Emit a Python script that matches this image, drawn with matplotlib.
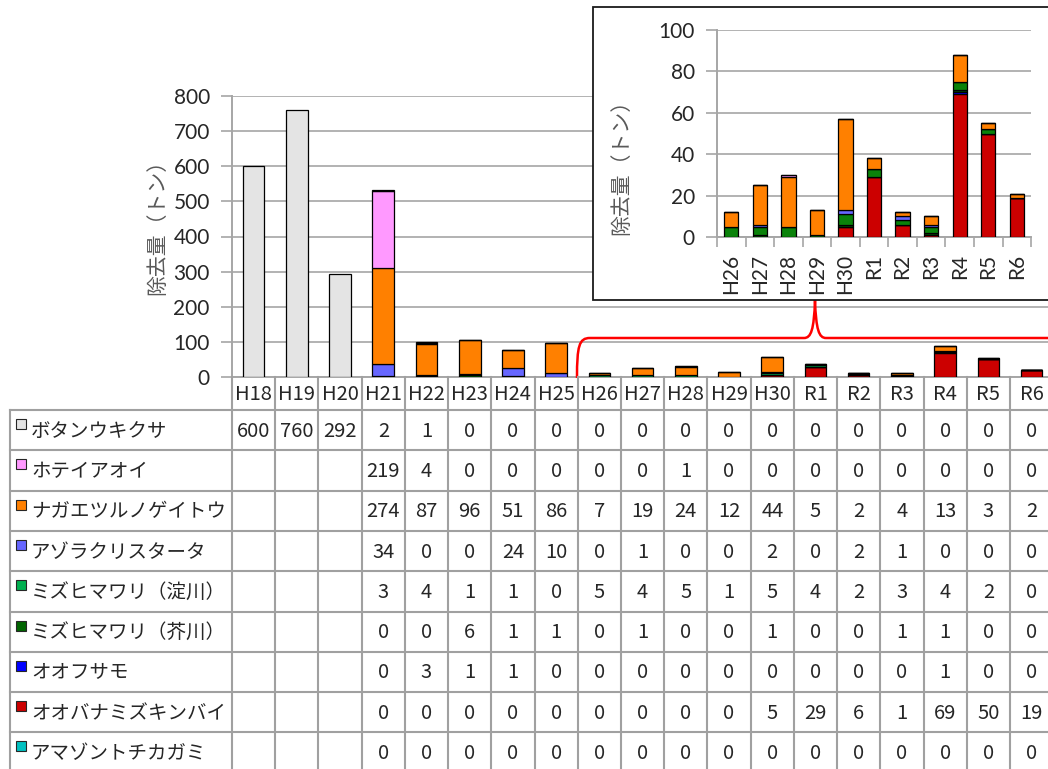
import matplotlib.pyplot as plt
from matplotlib.path import Path
from matplotlib.patches import PathPatch, Rectangle

plt.rcParams['font.family'] = ['Noto Sans CJK JP', 'DejaVu Sans']

# 年度ごとの外来水生植物の除去量（トン）
years = ['H18', 'H19', 'H20', 'H21', 'H22', 'H23', 'H24', 'H25', 'H26', 'H27',
         'H28', 'H29', 'H30', 'R1', 'R2', 'R3', 'R4', 'R5', 'R6']

species = ['ボタンウキクサ', 'ホテイアオイ', 'ナガエツルノゲイトウ', 'アゾラクリスタータ',
           'ミズヒマワリ（淀川）', 'ミズヒマワリ（芥川）', 'オオフサモ',
           'オオバナミズキンバイ', 'アマゾントチカガミ']

botan = [600, 760, 292, 2, 1, 0, 0, 0, 0, 0, 0, 0, 0, 0, 0, 0, 0, 0, 0]
hotei = [None, None, None, 219, 4, 0, 0, 0, 0, 0, 1, 0, 0, 0, 0, 0, 0, 0, 0]
nagae = [None, None, None, 274, 87, 96, 51, 86, 7, 19, 24, 12, 44, 5, 2, 4, 13, 3, 2]
azolla = [None, None, None, 34, 0, 0, 24, 10, 0, 1, 0, 0, 2, 0, 2, 1, 0, 0, 0]
mizuhi_yodo = [None, None, None, 3, 4, 1, 1, 0, 5, 4, 5, 1, 5, 4, 2, 3, 4, 2, 0]
mizuhi_akuta = [None, None, None, 0, 0, 6, 1, 1, 0, 1, 0, 0, 1, 0, 0, 1, 1, 0, 0]
oofusamo = [None, None, None, 0, 3, 1, 1, 0, 0, 0, 0, 0, 0, 0, 0, 0, 1, 0, 0]
oobana = [None, None, None, 0, 0, 0, 0, 0, 0, 0, 0, 0, 5, 29, 6, 1, 69, 50, 19]
amazon = [None, None, None, 0, 0, 0, 0, 0, 0, 0, 0, 0, 0, 0, 0, 0, 0, 0, 0]

rows = [botan, hotei, nagae, azolla, mizuhi_yodo, mizuhi_akuta, oofusamo, oobana, amazon]
colors = ['#e4e4e4', '#ff99ff', '#ff8000', '#6666ff', '#00b050', '#006400',
          '#0000ff', '#cc0000', '#00c0c0']
inset_colors = ['#e4e4e4', '#ff99ff', '#ff8000', '#6666ff', '#0a820a', '#004d00',
                '#0000ff', '#cc0000', '#00c0c0']

inset_from = years.index('H26')

W, H = 1048, 769
fig = plt.figure(figsize=(W / 100, H / 100), dpi=100)


def box(left, top, right, bottom):
    return [left / W, 1 - bottom / H, (right - left) / W, (bottom - top) / H]


grid_c = '#a6a6a6'
txt_c = '#262626'
num_font = dict(family=['Lato', 'DejaVu Sans'], size=15, color=txt_c)
colw = 43.22
x0 = 232
x_end = x0 + colw * len(years)


def stacked(ax, idx, palette, width=0.5):
    base = [0] * len(idx)
    # bottom of the stack is the last row of the table
    for r in range(len(rows) - 1, -1, -1):
        vals = [rows[r][i] or 0 for i in idx]
        ax.bar(range(len(idx)), vals, width, bottom=base, color=palette[r],
               edgecolor='black', linewidth=0.9, zorder=3)
        base = [b + v for b, v in zip(base, vals)]


def style_axes(a):
    a.grid(axis='y', color=grid_c, linewidth=1.2, zorder=0)
    for s in ['top', 'right']:
        a.spines[s].set_visible(False)
    for s in ['left', 'bottom']:
        a.spines[s].set_color(grid_c)
        a.spines[s].set_linewidth(1.4)
    a.tick_params(axis='y', length=8, width=1.2, color=grid_c, pad=8)


# main chart
ax = fig.add_axes(box(x0, 96, x_end, 377))
stacked(ax, list(range(len(years))), colors)
ax.set_xlim(-0.5, len(years) - 0.5)
ax.set_ylim(0, 800)
ax.set_yticks(range(0, 801, 100))
ax.set_xticks([])
style_axes(ax)
for t in ax.get_yticklabels():
    t.set(**num_font)
fig.text(157 / W, 1 - 222 / H, '除去量（トン）', rotation=90, ha='center',
         va='center', fontsize=15, color='#595959')

# data table, inset frame and bracket drawn in pixel units
ov = fig.add_axes([0, 0, 1, 1])
ov.set_xlim(0, W)
ov.set_ylim(H, 0)
ov.axis('off')

row_top = 410
row_h = 40.3
tab_bottom = row_top + row_h * len(rows)
line_kw = dict(color='#a0a0a0', linewidth=1.5)
for k in range(len(years) + 1):
    xx = x0 + k * colw
    ov.plot([xx, xx], [377, tab_bottom], **line_kw)
ov.plot([10, 10], [row_top, tab_bottom], **line_kw)
for k in range(len(rows) + 1):
    yy = row_top + k * row_h
    ov.plot([10, x_end], [yy, yy], **line_kw)

for i, y in enumerate(years):
    ov.text(x0 + (i + 0.5) * colw, 394, y, ha='center', va='center',
            fontsize=14.5, color=txt_c)

for r, name in enumerate(species):
    top = row_top + r * row_h
    ov.add_patch(Rectangle((16, top + 9), 10, 10, facecolor=colors[r],
                           edgecolor=txt_c, linewidth=0.8))
    ov.text(31, top + row_h / 2 + 1, name, ha='left', va='center',
            fontsize=14, color=txt_c)
    for i, v in enumerate(rows[r]):
        if v is None:
            continue
        ov.text(x0 + (i + 0.5) * colw, top + row_h / 2 + 1, str(v), ha='center',
                va='center', fontsize=14.5, color=txt_c)

# bracket pointing from the later years up to the enlarged chart
verts = [(577, 378), (577, 346), (579, 338), (590, 338),
         (804, 338), (811, 338), (814, 330), (815, 300),
         (816, 330), (819, 338), (826, 338), (1060, 338)]
codes = [Path.MOVETO, Path.CURVE4, Path.CURVE4, Path.CURVE4,
         Path.LINETO, Path.CURVE4, Path.CURVE4, Path.CURVE4,
         Path.CURVE4, Path.CURVE4, Path.CURVE4, Path.LINETO]
ov.add_patch(PathPatch(Path(verts, codes), facecolor='none', edgecolor='#ff0000',
                       linewidth=1.8))

ov.add_patch(Rectangle((593, 7), 480, 293, facecolor='white', edgecolor='#1a1a1a',
                       linewidth=1.3, zorder=5))

# enlarged view of H26 onward
n_in = len(years) - inset_from
ix = fig.add_axes(box(717, 30, 717 + 28.55 * n_in, 237))
stacked(ix, list(range(inset_from, len(years))), inset_colors)
ix.set_xlim(-0.5, n_in - 0.5)
ix.set_ylim(0, 100)
ix.set_yticks(range(0, 101, 20))
ix.set_xticks(range(n_in))
ix.set_xticklabels(years[inset_from:], rotation=90)
ix.set_xticks([k - 0.5 for k in range(n_in + 1)], minor=True)
ix.tick_params(axis='x', which='major', length=0, pad=12)
ix.tick_params(axis='x', which='minor', length=7, width=1.2, color=grid_c)
style_axes(ix)
for t in ix.get_yticklabels() + ix.get_xticklabels():
    t.set(**num_font)
ix.set_ylabel('除去量（トン）', fontsize=15, color='#595959')
ix.yaxis.set_label_coords((632 - 717) / (28.55 * n_in), (237 - 162) / 207)

fig.savefig('out.png', dpi=100)
